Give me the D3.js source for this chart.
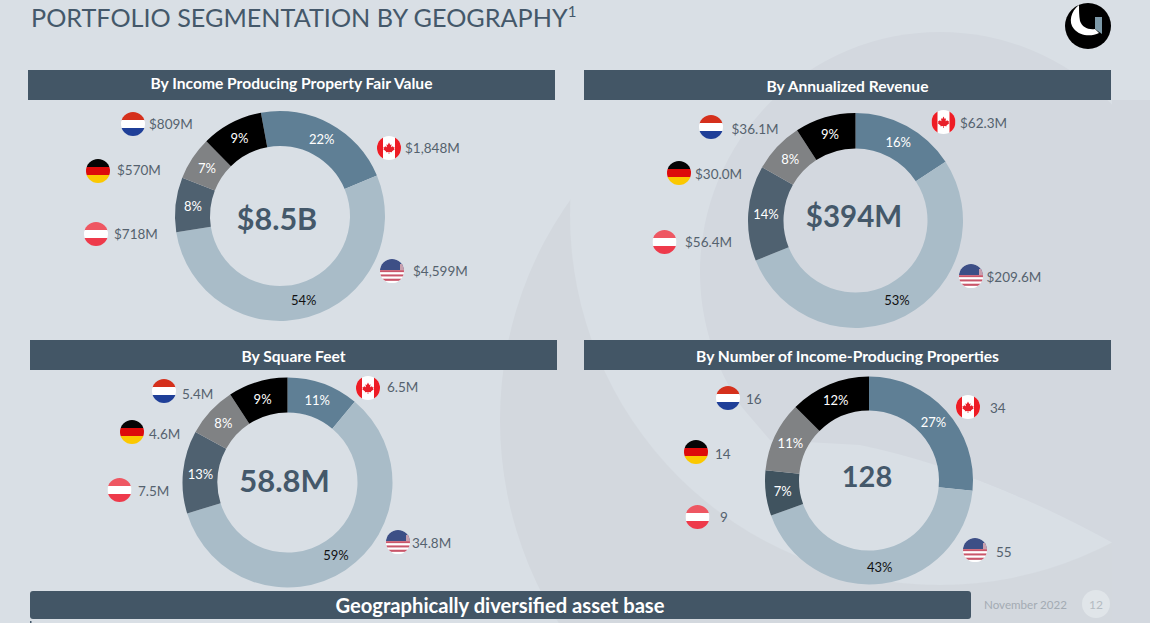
<!DOCTYPE html>
<html lang="en">
<head>
<meta charset="UTF-8">
<title>Portfolio Segmentation by Geography</title>
<script src="https://d3js.org/d3.v7.min.js"></script>
<style>
  html, body { margin: 0; padding: 0; background: #d9dfe5; }
  svg { display: block; }
  text { font-family: Lato, "Open Sans", sans-serif; }
</style>
</head>
<body>
<svg width="1150" height="623"></svg>
<script>
// Data
const countries = ["Canada", "United States", "Austria", "Germany", "Netherlands"];

const fairValue = [1848, 4599, 718, 570, 809];
const fairValuePct = ["22%", "54%", "8%", "7%", "9%"];
const fairValueLabels = ["$1,848M", "$4,599M", "$718M", "$570M", "$809M"];

const revenue = [62.3, 209.6, 56.4, 30.0, 36.1];
const revenuePct = ["16%", "53%", "14%", "8%", "9%"];
const revenueLabels = ["$62.3M", "$209.6M", "$56.4M", "$30.0M", "$36.1M"];

const squareFeet = [6.5, 34.8, 7.5, 4.6, 5.4];
const squareFeetPct = ["11%", "59%", "13%", "8%", "9%"];
const squareFeetLabels = ["6.5M", "34.8M", "7.5M", "4.6M", "5.4M"];

const properties = [34, 55, 9, 14, 16];
const propertiesPct = ["27%", "43%", "7%", "11%", "12%"];
const propertiesLabels = ["34", "55", "9", "14", "16"];

const sliceColor = d3.scaleOrdinal()
    .domain(countries)
    .range(["#5f7f95", "#a9bcc8", "#4f6170", "#808284", "#000000"]);

const svg = d3.select("svg");
const defs = svg.append("defs");

// Background
svg.append("rect").attr("width", 1150).attr("height", 623).attr("fill", "#d9dfe5");

// Faint logo crescent behind the charts: big circle minus an offset circle
const crescentMask = defs.append("mask").attr("id", "crescentMask")
    .attr("maskUnits", "userSpaceOnUse")
    .attr("x", 0).attr("y", 0).attr("width", 1150).attr("height", 623);
crescentMask.append("rect").attr("width", 1150).attr("height", 623).attr("fill", "#fff");
crescentMask.append("circle").attr("cx", 940).attr("cy", 215).attr("r", 370).attr("fill", "#000");
svg.append("circle")
    .attr("cx", 880).attr("cy", 420).attr("r", 380)
    .attr("fill", "#d3d8de")
    .attr("mask", "url(#crescentMask)");

// Darker disc behind the right hand charts, cut off at the lower edge
defs.append("clipPath").attr("id", "discClip").append("path")
    .attr("d", "M650,0 L1150,0 L1150,565 L1113,543 Q980,470 860,445 L770,440 L650,300 Z");
const disc = svg.append("g").attr("clip-path", "url(#discClip)").attr("fill", "#d3d8df");
disc.append("circle").attr("cx", 940).attr("cy", 272).attr("r", 240);
disc.append("rect").attr("x", 940).attr("y", 272).attr("width", 210).attr("height", 300);
svg.append("rect").attr("x", 1112).attr("y", 100).attr("width", 38).attr("height", 523)
    .attr("fill", "#d3d8df");

// Page title
const title = svg.append("text").attr("x", 31).attr("y", 27)
    .attr("font-size", 25.2).attr("fill", "#44586a");
title.append("tspan").text("PORTFOLIO SEGMENTATION BY GEOGRAPHY");
title.append("tspan").text("1").attr("font-size", 15).attr("dy", -10);

// Logo
const logo = svg.append("g").attr("transform", "translate(1088,26)");
logo.append("circle").attr("r", 23).attr("fill", "#000");
logo.append("path")
    .attr("d", "M-9,-21 C-17,-15 -20,-4 -14,3 C-8,10 3,11 11,7 L7,3 C0,4 -6,1 -8,-5 C-9,-10 -9,-16 -9,-21 Z")
    .attr("fill", "#fff");
logo.append("path")
    .attr("d", "M7,-9 L14,-9 L14,8 L7,3 Z")
    .attr("fill", "#7d99a8");

// Flags are stripes clipped to a circle
const flagStripes = {
  "Netherlands": ["#d5301c", "#ffffff", "#1f3f98"],
  "Germany": ["#050505", "#dd0b0b", "#fbc800"],
  "Austria": ["#ee5762", "#ffffff", "#ee3a4b"]
};
const usStripes = ["#ffffff", "#c9566a", "#ffffff", "#c9566a", "#ffffff", "#c9566a", "#ffffff"];
const leafPath = "M0,-6.5 L1.5,-3.5 L3,-4.3 L2.4,-1 L4.6,-2.2 L5.3,-0.8 L6.6,-1 L6,1 L6.8,1.6 L3.4,4 L3.7,5 L0.4,4.6 L0.4,7 L-0.4,7 L-0.4,4.6 L-3.7,5 L-3.4,4 L-6.8,1.6 L-6,1 L-6.6,-1 L-5.3,-0.8 L-4.6,-2.2 L-2.4,-1 L-3,-4.3 L-1.5,-3.5 Z";

defs.append("clipPath").attr("id", "flagClip").append("circle").attr("r", 12);

function drawFlag(parent, country, x, y) {
  const g = parent.append("g").attr("transform", `translate(${x},${y})`)
      .attr("clip-path", "url(#flagClip)");
  if (flagStripes[country]) {
    const band = d3.scaleBand().domain(d3.range(3)).range([-12, 12]);
    g.selectAll("rect").data(flagStripes[country]).join("rect")
        .attr("x", -12).attr("width", 24)
        .attr("y", (d, i) => band(i)).attr("height", band.bandwidth() + 0.3)
        .attr("fill", d => d);
  } else if (country === "Canada") {
    g.append("rect").attr("x", -12).attr("y", -12).attr("width", 24).attr("height", 24).attr("fill", "#fff");
    g.append("rect").attr("x", -12).attr("y", -12).attr("width", 6).attr("height", 24).attr("fill", "#ee1c25");
    g.append("rect").attr("x", 6).attr("y", -12).attr("width", 6).attr("height", 24).attr("fill", "#ee1c25");
    g.append("path").attr("d", leafPath).attr("transform", "scale(0.85)").attr("fill", "#e8202a");
  } else {
    const band = d3.scaleBand().domain(d3.range(usStripes.length)).range([-3, 12]);
    g.append("rect").attr("x", -12).attr("y", -12).attr("width", 24).attr("height", 24).attr("fill", "#fff");
    g.selectAll(".stripe").data(usStripes).join("rect").attr("class", "stripe")
        .attr("x", -12).attr("width", 24)
        .attr("y", (d, i) => band(i)).attr("height", band.bandwidth() + 0.2)
        .attr("fill", d => d);
    g.append("rect").attr("x", -12).attr("y", -12).attr("width", 24).attr("height", 11).attr("fill", "#3d4f86");
    g.append("rect").attr("x", 8).attr("y", -7).attr("width", 4).attr("height", 6).attr("fill", "#c9a0ae");
  }
}

// One header + donut + flag labels
function drawPanel(cfg) {
  const panel = svg.append("g");

  panel.append("rect")
      .attr("x", cfg.header[0]).attr("y", cfg.header[1])
      .attr("width", 527).attr("height", 30)
      .attr("fill", "#435666");
  panel.append("text")
      .attr("x", cfg.header[0] + 263.5).attr("y", cfg.header[1] + cfg.headerDy)
      .attr("text-anchor", "middle").attr("dominant-baseline", "central")
      .attr("font-size", 15.6).attr("font-weight", 700).attr("fill", "#fff")
      .text(cfg.title);

  const pie = d3.pie().sort(null)
      .startAngle(cfg.rotation)
      .endAngle(cfg.rotation + 2 * Math.PI);
  const arc = d3.arc().innerRadius(cfg.inner).outerRadius(cfg.outer);
  const slices = pie(cfg.values);

  const donut = panel.append("g").attr("transform", `translate(${cfg.cx},${cfg.cy})`);
  donut.selectAll("path").data(slices).join("path")
      .attr("d", arc)
      .attr("fill", (d, i) => (i === 2 && cfg.austriaFill) || sliceColor(countries[i]));
  donut.selectAll("text.pct").data(slices).join("text").attr("class", "pct")
      .attr("transform", d => `translate(${arc.centroid(d)})`)
      .attr("text-anchor", "middle").attr("dominant-baseline", "central")
      .attr("font-size", 13)
      .attr("fill", (d, i) => i === 1 ? "#111" : "#fff")
      .text((d, i) => cfg.pct[i]);

  panel.append("text")
      .attr("x", cfg.center[0]).attr("y", cfg.center[1])
      .attr("text-anchor", "middle").attr("dominant-baseline", "central")
      .attr("font-size", cfg.centerSize).attr("font-weight", 700).attr("fill", "#44586a")
      .text(cfg.total);

  countries.forEach((c, i) => {
    drawFlag(panel, c, cfg.flags[i][0], cfg.flags[i][1]);
    panel.append("text")
        .attr("x", cfg.labels[i][0]).attr("y", cfg.labels[i][1])
        .attr("dominant-baseline", "central")
        .attr("font-size", 13.5).attr("fill", "#55626e")
        .text(cfg.labelText[i]);
  });
}

drawPanel({
  title: "By Income Producing Property Fair Value", header: [28, 70], headerDy: 12.5,
  values: fairValue, pct: fairValuePct, labelText: fairValueLabels, total: "$8.5B",
  cx: 280, cy: 216, inner: 70, outer: 105, rotation: -0.183, center: [277, 218], centerSize: 30.5,
  flags: [[389, 148], [392, 271], [96, 234], [98, 171], [133, 124]],
  labels: [[405, 148], [413, 271], [114, 234], [117, 170], [149, 124]]
});
drawPanel({
  title: "By Annualized Revenue", header: [584, 70], headerDy: 15.5,
  values: revenue, pct: revenuePct, labelText: revenueLabels, total: "$394M",
  cx: 855.5, cy: 220.5, inner: 72, outer: 107.5, rotation: 0, center: [854, 215], centerSize: 29.5,
  flags: [[943.5, 122], [971, 276], [664.5, 242], [679, 173], [711, 127]],
  labels: [[960, 123], [986.5, 277], [685, 242], [695, 174], [731.5, 129]]
});
drawPanel({
  title: "By Square Feet", header: [30, 340], headerDy: 15.5,
  values: squareFeet, pct: squareFeetPct, labelText: squareFeetLabels, total: "58.8M",
  cx: 287.5, cy: 482.5, inner: 70, outer: 105, rotation: 0, center: [284.5, 480], centerSize: 31,
  flags: [[368, 388], [398, 542], [119.5, 490], [132, 432], [164, 391]],
  labels: [[387, 387], [412, 543], [138, 491], [149, 434], [182, 394]]
});
drawPanel({
  title: "By Number of Income-Producing Properties", header: [584, 340], headerDy: 15.5,
  values: properties, pct: propertiesPct, labelText: propertiesLabels, total: "128",
  cx: 869, cy: 480.5, inner: 70, outer: 104, rotation: 0, center: [867, 475], centerSize: 29,
  austriaFill: "#40535f",
  flags: [[968, 407], [975, 550], [697.5, 517], [696, 452], [728, 398]],
  labels: [[990, 408], [996, 552], [720, 517], [715, 454], [746, 399]]
});

// Footer
svg.append("rect").attr("x", 30).attr("y", 591).attr("width", 941).attr("height", 28)
    .attr("rx", 3).attr("fill", "#435666");
svg.append("text").attr("x", 500).attr("y", 605)
    .attr("text-anchor", "middle").attr("dominant-baseline", "central")
    .attr("font-size", 20.2).attr("font-weight", 700).attr("fill", "#fff")
    .text("Geographically diversified asset base");
svg.append("text").attr("x", 984).attr("y", 604).attr("dominant-baseline", "central")
    .attr("font-size", 11.6).attr("fill", "#a3abb3").text("November 2022");
svg.append("circle").attr("cx", 1096).attr("cy", 604).attr("r", 14).attr("fill", "#e0e5e9");
svg.append("text").attr("x", 1096).attr("y", 604)
    .attr("text-anchor", "middle").attr("dominant-baseline", "central")
    .attr("font-size", 12).attr("fill", "#b4bbc2").text("12");
svg.append("rect").attr("x", 30).attr("y", 621).attr("width", 1.5).attr("height", 2).attr("fill", "#44586a");
</script>
</body>
</html>
